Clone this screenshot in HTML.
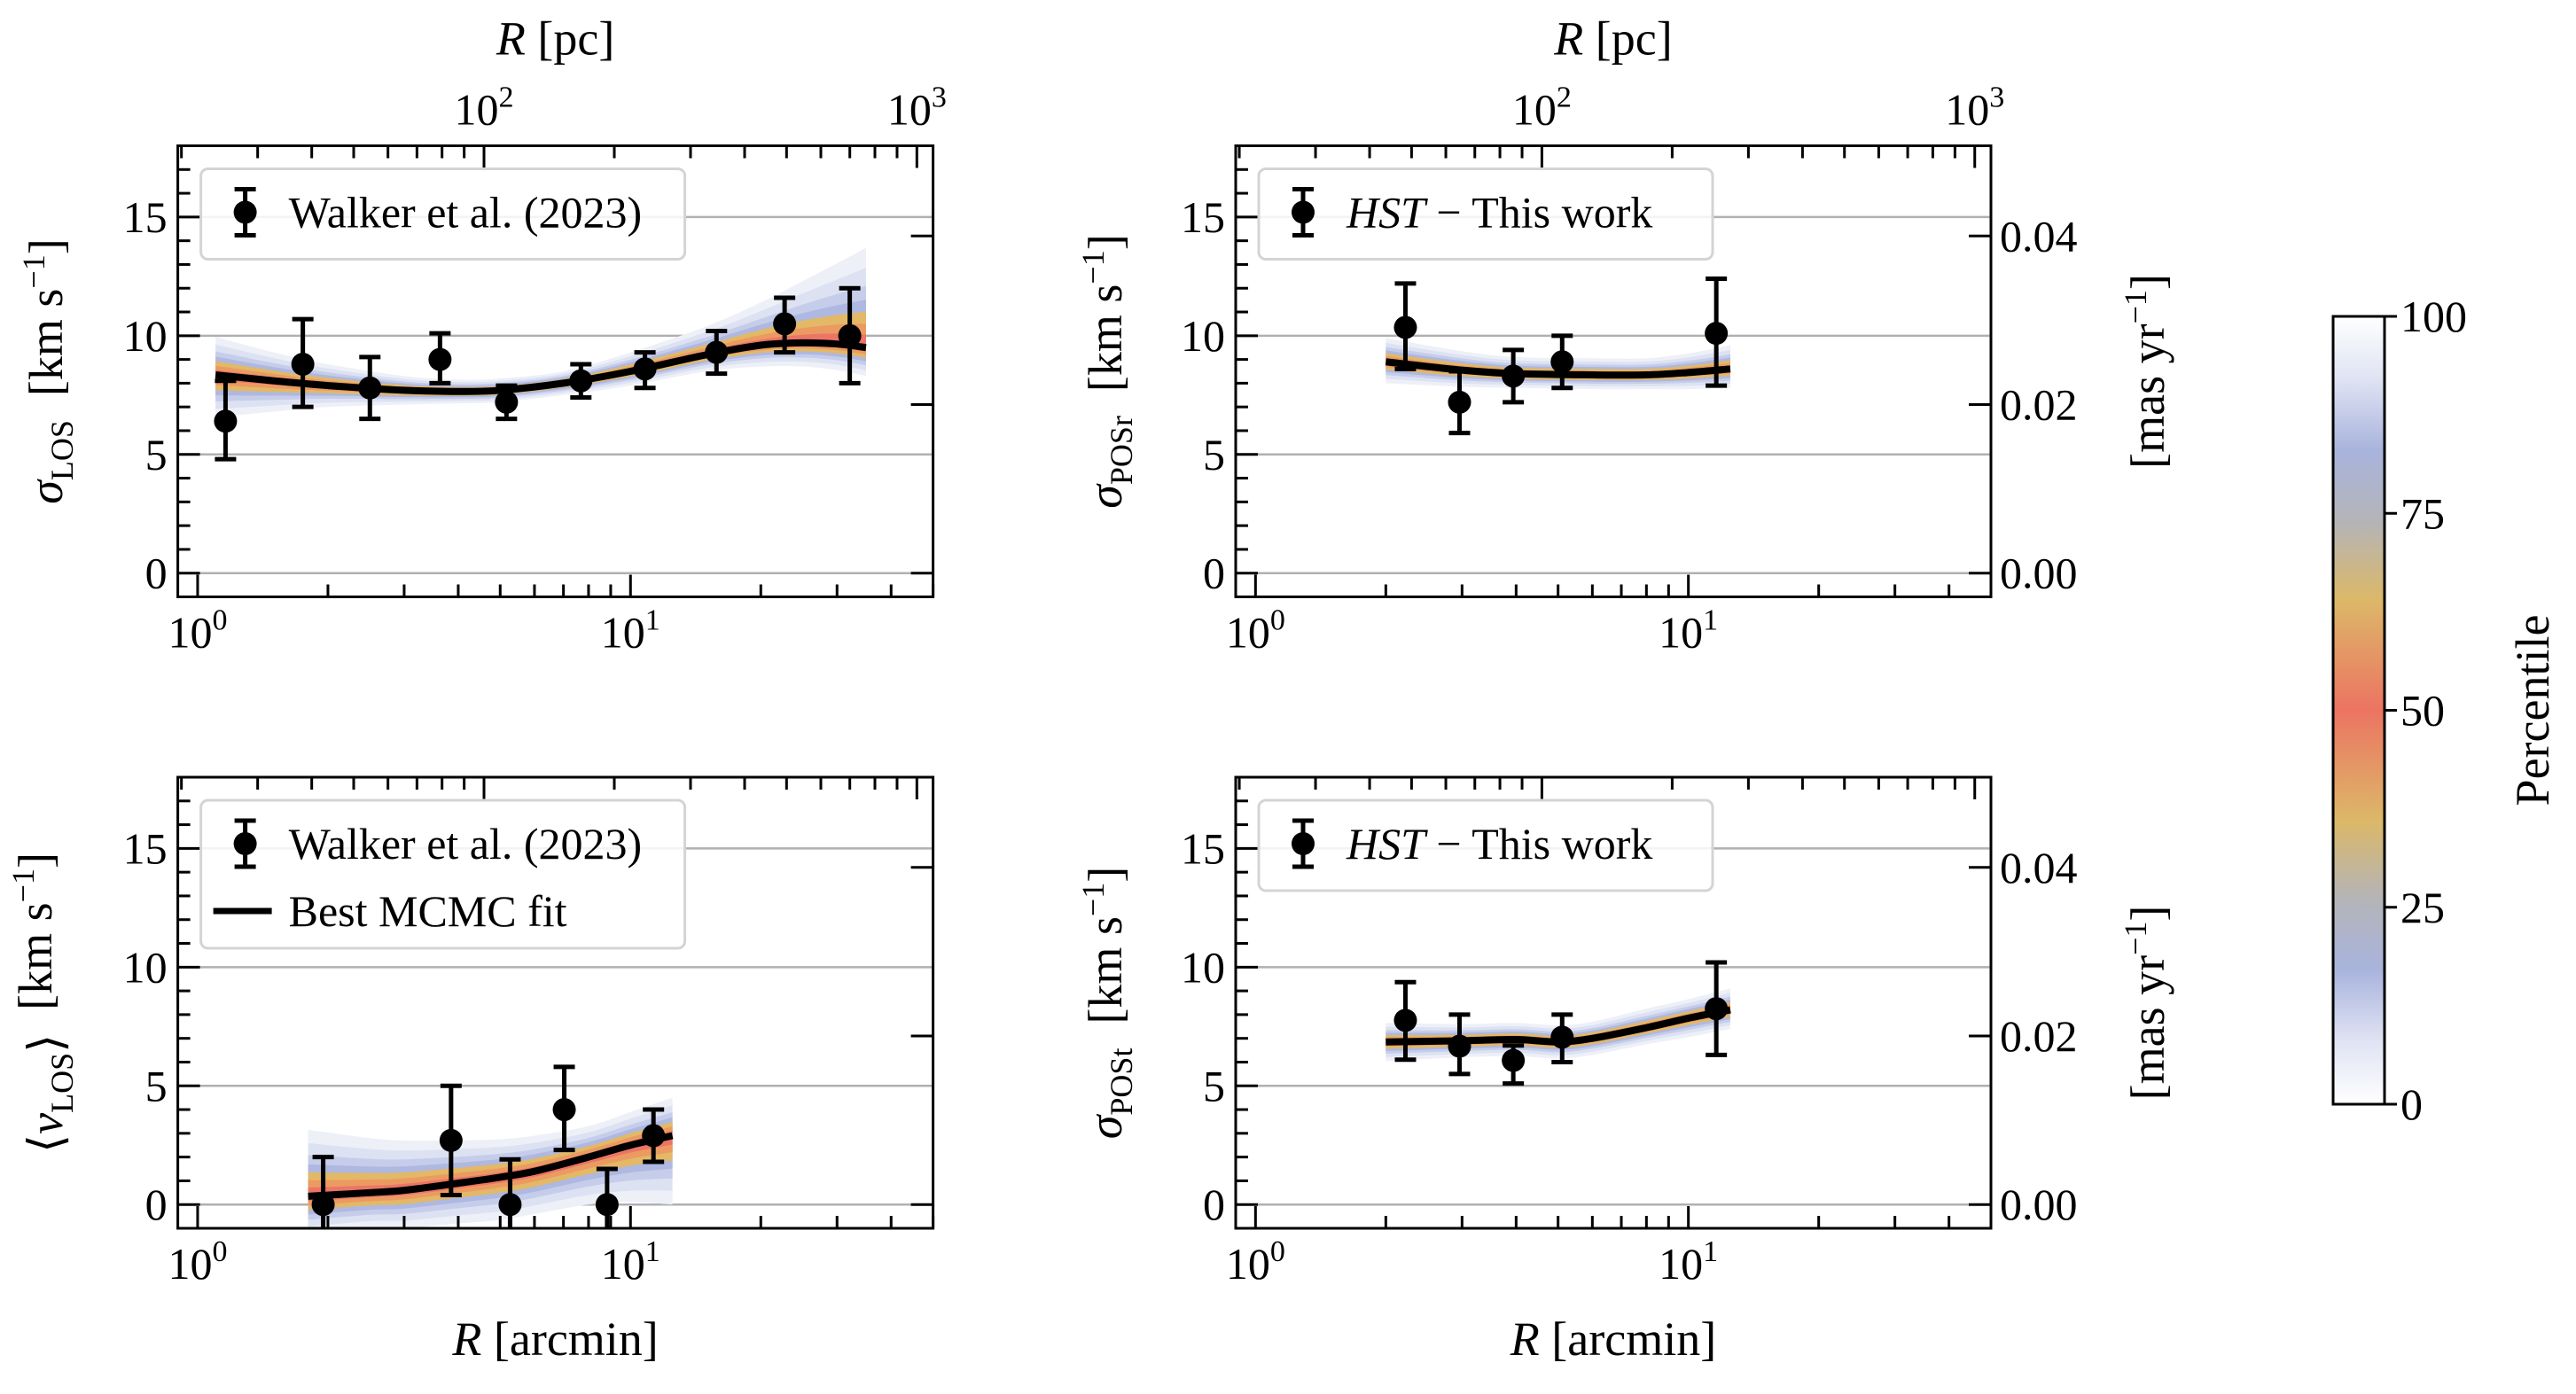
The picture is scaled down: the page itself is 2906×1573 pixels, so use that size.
<!DOCTYPE html>
<html><head><meta charset="utf-8"><style>
html,body{margin:0;padding:0;background:#fff;}
svg, svg text{font-family:"Liberation Serif","DejaVu Serif",serif;}
</style></head><body>
<svg id="fig" width="2906" height="1568" viewBox="0 0 2906 1568" xmlns="http://www.w3.org/2000/svg" font-family="Liberation Serif, DejaVu Serif, serif">
<defs>
<linearGradient id="cbar" x1="0" y1="1" x2="0" y2="0">
<stop offset="0" stop-color="#ffffff"/><stop offset="0.08" stop-color="#dfe3f3"/><stop offset="0.17" stop-color="#a9b4dd"/>
<stop offset="0.26" stop-color="#b4b4b8"/><stop offset="0.36" stop-color="#dcb868"/><stop offset="0.5" stop-color="#ec7462"/>
<stop offset="0.64" stop-color="#dcb868"/><stop offset="0.74" stop-color="#b4b4b8"/><stop offset="0.83" stop-color="#a9b4dd"/>
<stop offset="0.92" stop-color="#dfe3f3"/><stop offset="1" stop-color="#ffffff"/>
</linearGradient>
</defs>
<g id="root" font-family="Liberation Serif, DejaVu Serif, serif"></g>
</svg>
<script>
// ---- data ----
const p1Radius=[1.16,1.75,2.50,3.63,5.17,7.68,10.8,15.8,22.7,32.1];
const p1Value=[6.4,8.8,7.8,9.0,7.2,8.1,8.6,9.3,10.5,10.0];
const p1ErrHi=[8.1,10.7,9.1,10.1,7.9,8.8,9.3,10.2,11.6,12.0];
const p1ErrLo=[4.8,7.0,6.5,8.0,6.5,7.4,7.8,8.4,9.3,8.0];
const p1FitR=[1.1,1.5,2,3,4,5,7,10,15,20,25,30,35];
const p1Fit=[8.35,8.1,7.9,7.7,7.65,7.7,8.0,8.5,9.2,9.6,9.7,9.65,9.5];
const p1Up=[1.6,1.2,0.9,0.6,0.5,0.5,0.5,0.8,1.2,1.8,2.6,3.4,4.2];
const p1Lo=[1.8,1.3,0.9,0.6,0.5,0.5,0.5,0.6,0.7,0.9,1.0,1.1,1.2];

const p2Radius=[2.22,2.96,3.94,5.11,11.6];
const p2Value=[10.35,7.2,8.3,8.9,10.1];
const p2ErrHi=[12.2,8.5,9.4,10.0,12.4];
const p2ErrLo=[8.6,5.9,7.2,7.8,7.9];
const p2FitR=[2,3,4,6,8,10,12.5];
const p2Fit=[8.9,8.55,8.4,8.35,8.35,8.45,8.6];
const p2Up=[1.0,0.8,0.7,0.7,0.7,0.8,1.0];
const p2Lo=[0.9,0.7,0.6,0.6,0.6,0.7,0.8];

const p3Radius=[1.95,3.85,5.27,7.03,8.83,11.3];
const p3Value=[0,2.7,0,4.0,0,2.9];
const p3ErrHi=[2.0,5.0,1.9,5.8,1.5,4.0];
const p3ErrLo=[-1.2,0.4,-1.2,2.3,-1.2,1.8];
const p3FitR=[1.8,2.5,3,4,5,6,8,10,12.5];
const p3Fit=[0.35,0.5,0.6,0.9,1.15,1.4,2.0,2.5,2.9];
const p3Up=[2.8,2.3,2.1,1.8,1.6,1.5,1.3,1.4,1.6];
const p3Lo=[1.6,1.5,1.6,1.7,1.8,1.8,2.0,2.4,2.9];

const p4Radius=[2.22,2.96,3.94,5.11,11.6];
const p4Value=[7.76,6.67,6.07,7.05,8.25];
const p4ErrHi=[9.37,8.0,6.7,8.0,10.2];
const p4ErrLo=[6.1,5.5,5.1,6.0,6.3];
const p4FitR=[2,3,4,5,6,8,10,12.5];
const p4Fit=[6.85,6.9,6.95,6.85,7.0,7.45,7.85,8.2];
const p4Up=[0.8,0.7,0.7,0.7,0.7,0.8,0.8,0.9];
const p4Lo=[0.8,0.7,0.7,0.7,0.7,0.7,0.8,0.8];

const yTicks=[0,5,10,15];
const masTicks=["0.00","0.02","0.04"];
const cbarTicks=[0,25,50,75,100];

// ---- helpers ----
const NS="http://www.w3.org/2000/svg";
const root=document.getElementById('root');
const FONT='Liberation Serif, DejaVu Serif, serif';
function mk(tag,attrs,parent){const e=document.createElementNS(NS,tag);for(const k in attrs)e.setAttribute(k,attrs[k]);(parent||root).appendChild(e);return e;}
const W=852,H=509,XMIN=0.9,XMAX=50,YMIN=-1,YMAX=18,KMS_PER_MAS=7.1/0.02,PC_PER_ARC=21.8;
function axes(L,T){return {L,T,x:v=>L+W*(Math.log10(v)-Math.log10(XMIN))/(Math.log10(XMAX)-Math.log10(XMIN)),y:v=>T+H-(v-YMIN)/(YMAX-YMIN)*H};}
function smoothPath(pts){let d='M'+pts[0][0]+','+pts[0][1];
 for(let i=0;i<pts.length-1;i++){const p0=pts[Math.max(0,i-1)],p1=pts[i],p2=pts[i+1],p3=pts[Math.min(pts.length-1,i+2)];
  const c1=[p1[0]+(p2[0]-p0[0])/6,p1[1]+(p2[1]-p0[1])/6],c2=[p2[0]-(p3[0]-p1[0])/6,p2[1]-(p3[1]-p1[1])/6];
  d+=' C'+c1[0]+','+c1[1]+' '+c2[0]+','+c2[1]+' '+p2[0]+','+p2[1];}return d;}
function text(str,x,y,size,anchor,parent,extra){const t=mk('text',Object.assign({x,y,'font-size':size,'text-anchor':anchor||'middle','font-family':FONT},extra||{}),parent);t.textContent=str;return t;}

const layers=[[1.0,'#eef0f8'],[0.8,'#dde2f3'],[0.62,'#c5cdea'],[0.48,'#aeb8e0'],[0.36,'#e3b866'],[0.24,'#eb9b62'],[0.13,'#ec7565']];

let pid=0;
function panel(name,L,T,R,V,Hi,Lo,FR,F,UP,LO,opts){
 pid++;
 const a=axes(L,T);
 const g=mk('g',{},root);
 
 
 const cp=mk('clipPath',{id:'clip'+pid},g);mk('rect',{x:L,y:T,width:W,height:H},cp);
 yTicks.forEach(v=>{const l=mk('line',{x1:L,x2:L+W,y1:a.y(v),y2:a.y(v),stroke:'#b0b0b0','stroke-width':2.5},g);
  
  });
 const bg=mk('g',{'clip-path':'url(#clip'+pid+')'},g);
 
 
 layers.forEach(([f,c])=>{
  const up=FR.map((r,i)=>[a.x(r),a.y(F[i]+UP[i]*f)]);
  const lo=FR.map((r,i)=>[a.x(r),a.y(F[i]-LO[i]*f)]).reverse();
  const lp=smoothPath(lo);
  const d=smoothPath(up)+' L'+lo[0][0]+','+lo[0][1]+lp.slice(lp.indexOf(' C'))+' Z';
  mk('path',{d,fill:c,stroke:'none'},bg);
 });
 const fl=mk('path',{d:smoothPath(FR.map((r,i)=>[a.x(r),a.y(F[i])])),fill:'none',stroke:'#000','stroke-width':8,'clip-path':'url(#clip'+pid+')'},g);
 
 
 R.forEach((r,i)=>{const x=a.x(r);
  const pg=mk('g',{'clip-path':'url(#clip'+pid+')'},g);
  
  
  mk('line',{x1:x,x2:x,y1:a.y(Hi[i]),y2:a.y(Lo[i]),stroke:'#000','stroke-width':5},pg);
  mk('line',{x1:x-12,x2:x+12,y1:a.y(Hi[i]),y2:a.y(Hi[i]),stroke:'#000','stroke-width':5},pg);
  mk('line',{x1:x-12,x2:x+12,y1:a.y(Lo[i]),y2:a.y(Lo[i]),stroke:'#000','stroke-width':5},pg);
  mk('circle',{cx:x,cy:a.y(V[i]),r:13,fill:'#000'},pg);
 });
 const tk=mk('g',{stroke:'#000','stroke-width':3},g);
 
 
 const B=T+H;
 for(let d=0;d<3;d++)for(let m=1;m<10;m++){const v=m*Math.pow(10,d);if(v<XMIN||v>XMAX)continue;const x=a.x(v),len=m==1?25:14;
  mk('line',{x1:x,x2:x,y1:B,y2:B-len},tk);}
 for(let d=1;d<4;d++)for(let m=1;m<10;m++){const v=m*Math.pow(10,d)/PC_PER_ARC;if(v<XMIN||v>XMAX)continue;const x=a.x(v),len=m==1?25:14;
  mk('line',{x1:x,x2:x,y1:T,y2:T+len},tk);}
 for(let v=0;v<=18;v++){const len=v%5==0?25:14;mk('line',{x1:L,x2:L+len,y1:a.y(v),y2:a.y(v)},tk);}
 masTicks.forEach(m=>{const y=a.y(parseFloat(m)*KMS_PER_MAS);mk('line',{x1:L+W,x2:L+W-25,y1:y,y2:y},tk);});
 const fr=mk('rect',{x:L,y:T,width:W,height:H,fill:'none',stroke:'#000','stroke-width':3},g);
 
 
 yTicks.forEach(v=>{const t=text(String(v),L-12,a.y(v)+17,50,'end',g);
  
  });
 [1,10].forEach((v,i)=>{const t=mk('text',{x:a.x(v),y:B+57,'font-size':50,'text-anchor':'middle','font-family':FONT},g);
  
  
  const b=mk('tspan',{},t);b.textContent='10';const s=mk('tspan',{dy:-20,'font-size':34},t);s.textContent=String(i);});
 if(opts.right){masTicks.forEach(m=>{const t=text(m,L+W+10,a.y(parseFloat(m)*KMS_PER_MAS)+17,50,'start',g);
  
  });}
 if(opts.top){[100,1000].forEach((v,i)=>{const t=mk('text',{x:a.x(v/PC_PER_ARC),y:T-24,'font-size':50,'text-anchor':'middle','font-family':FONT},g);
  
  
  const b=mk('tspan',{},t);b.textContent='10';const s=mk('tspan',{dy:-20,'font-size':34},t);s.textContent=String(i+2);});
  const tl=mk('text',{x:L+426,y:T-103,'font-size':54,'text-anchor':'middle','font-family':FONT},g);
  
  
  const ti=mk('tspan',{'font-style':'italic'},tl);ti.textContent='R';const tr=mk('tspan',{},tl);tr.textContent=' [pc]';}
 if(opts.bottom){const tl=mk('text',{x:L+426,y:B+143,'font-size':54,'text-anchor':'middle','font-family':FONT},g);
  
  
  const ti=mk('tspan',{'font-style':'italic'},tl);ti.textContent='R';const tr=mk('tspan',{},tl);tr.textContent=' [arcmin]';}
 const yl=mk('text',{x:0,y:0,'font-size':54,'text-anchor':'middle','font-family':FONT,transform:'translate('+opts.ylx+','+(T+H/2)+') rotate(-90)'},g);
 
 
 opts.ylab.forEach(p=>{const s=mk('tspan',p[1]||{},yl);s.textContent=p[0];});
 if(opts.right){const rl=mk('text',{x:0,y:0,'font-size':54,'text-anchor':'middle','font-family':FONT,transform:'translate('+(L+W+195)+','+(T+H/2)+') rotate(-90)'},g);
  
  
  const s1=mk('tspan',{},rl);s1.textContent='[mas yr';const s2=mk('tspan',{dy:-20,'font-size':36},rl);s2.textContent='−1';const s3=mk('tspan',{dy:20},rl);s3.textContent=']';}
 const lg=mk('g',{},g);
 
 
 const lh=opts.legend.length==2?167:102;
 mk('rect',{x:L+26,y:T+26,width:opts.legW,height:lh,rx:8,fill:'#fff','fill-opacity':0.85,stroke:'#d4d4d4','stroke-width':3},lg);
 const cy=T+75,mx=L+76;
 mk('line',{x1:mx,x2:mx,y1:cy-26,y2:cy+26,stroke:'#000','stroke-width':5},lg);
 mk('line',{x1:mx-12,x2:mx+12,y1:cy-26,y2:cy-26,stroke:'#000','stroke-width':5},lg);
 mk('line',{x1:mx-12,x2:mx+12,y1:cy+26,y2:cy+26,stroke:'#000','stroke-width':5},lg);
 mk('circle',{cx:mx,cy:cy,r:13,fill:'#000'},lg);
 const lt=mk('text',{x:L+125,y:cy+17,'font-size':50,'font-family':FONT},lg);
 opts.legend[0].forEach(p=>{const s=mk('tspan',p[1]||{},lt);s.textContent=p[0];});
 if(opts.legend.length==2){const y2=cy+76;mk('line',{x1:L+40,x2:L+106,y1:y2,y2:y2,stroke:'#000','stroke-width':7},lg);
  const t2=mk('text',{x:L+125,y:y2+17,'font-size':50,'font-family':FONT},lg);t2.textContent=opts.legend[1];}
}
const sub=s=>[s,{dy:12,'font-size':36}];
const kms=[['\u2002[km s',{dy:-12,'font-size':54}],['−1',{dy:-20,'font-size':36}],[']',{dy:20,'font-size':54}]];
const walker=[['Walker et al. (2023)']];
const hst=[['HST',{'font-style':'italic'}],[' − This work']];
panel('panel-sigma-los',200.6,164.5,p1Radius,p1Value,p1ErrHi,p1ErrLo,p1FitR,p1Fit,p1Up,p1Lo,
 {top:true,ylx:70,ylab:[['σ',{'font-style':'italic'}],sub('LOS')].concat(kms),legend:[walker],legW:546});
panel('panel-sigma-posr',1394,164.5,p2Radius,p2Value,p2ErrHi,p2ErrLo,p2FitR,p2Fit,p2Up,p2Lo,
 {top:true,right:true,ylx:1265,ylab:[['σ',{'font-style':'italic'}],sub('POSr')].concat(kms),legend:[hst],legW:512});
panel('panel-mean-vlos',200.6,877,p3Radius,p3Value,p3ErrHi,p3ErrLo,p3FitR,p3Fit,p3Up,p3Lo,
 {bottom:true,ylx:70,ylab:[['⟨'],['v',{'font-style':'italic'}],sub('LOS'),['⟩',{dy:-12}]].concat(kms),legend:[walker,'Best MCMC fit'],legW:546});
panel('panel-sigma-post',1394,877,p4Radius,p4Value,p4ErrHi,p4ErrLo,p4FitR,p4Fit,p4Up,p4Lo,
 {bottom:true,right:true,ylx:1265,ylab:[['σ',{'font-style':'italic'}],sub('POSt')].concat(kms),legend:[hst],legW:512});

const cb=mk('g',{},root);


const CT=357,CB=1246,CL=2632,CR=2690;
mk('rect',{x:CL,y:CT,width:CR-CL,height:CB-CT,fill:'url(#cbar)',stroke:'#000','stroke-width':3},cb);
cbarTicks.forEach(v=>{const y=CB-(v/100)*(CB-CT);
 mk('line',{x1:CR,x2:CR+14,y1:y,y2:y,stroke:'#000','stroke-width':3},cb);
 const t=text(String(v),CR+18,y+17,50,'start',cb);
 
 });
const pl=mk('text',{x:0,y:0,'font-size':54,'text-anchor':'middle','font-family':FONT,transform:'translate(2875,'+((CT+CB)/2)+') rotate(-90)'},cb);


pl.textContent='Percentile';
</script>
</body></html>
